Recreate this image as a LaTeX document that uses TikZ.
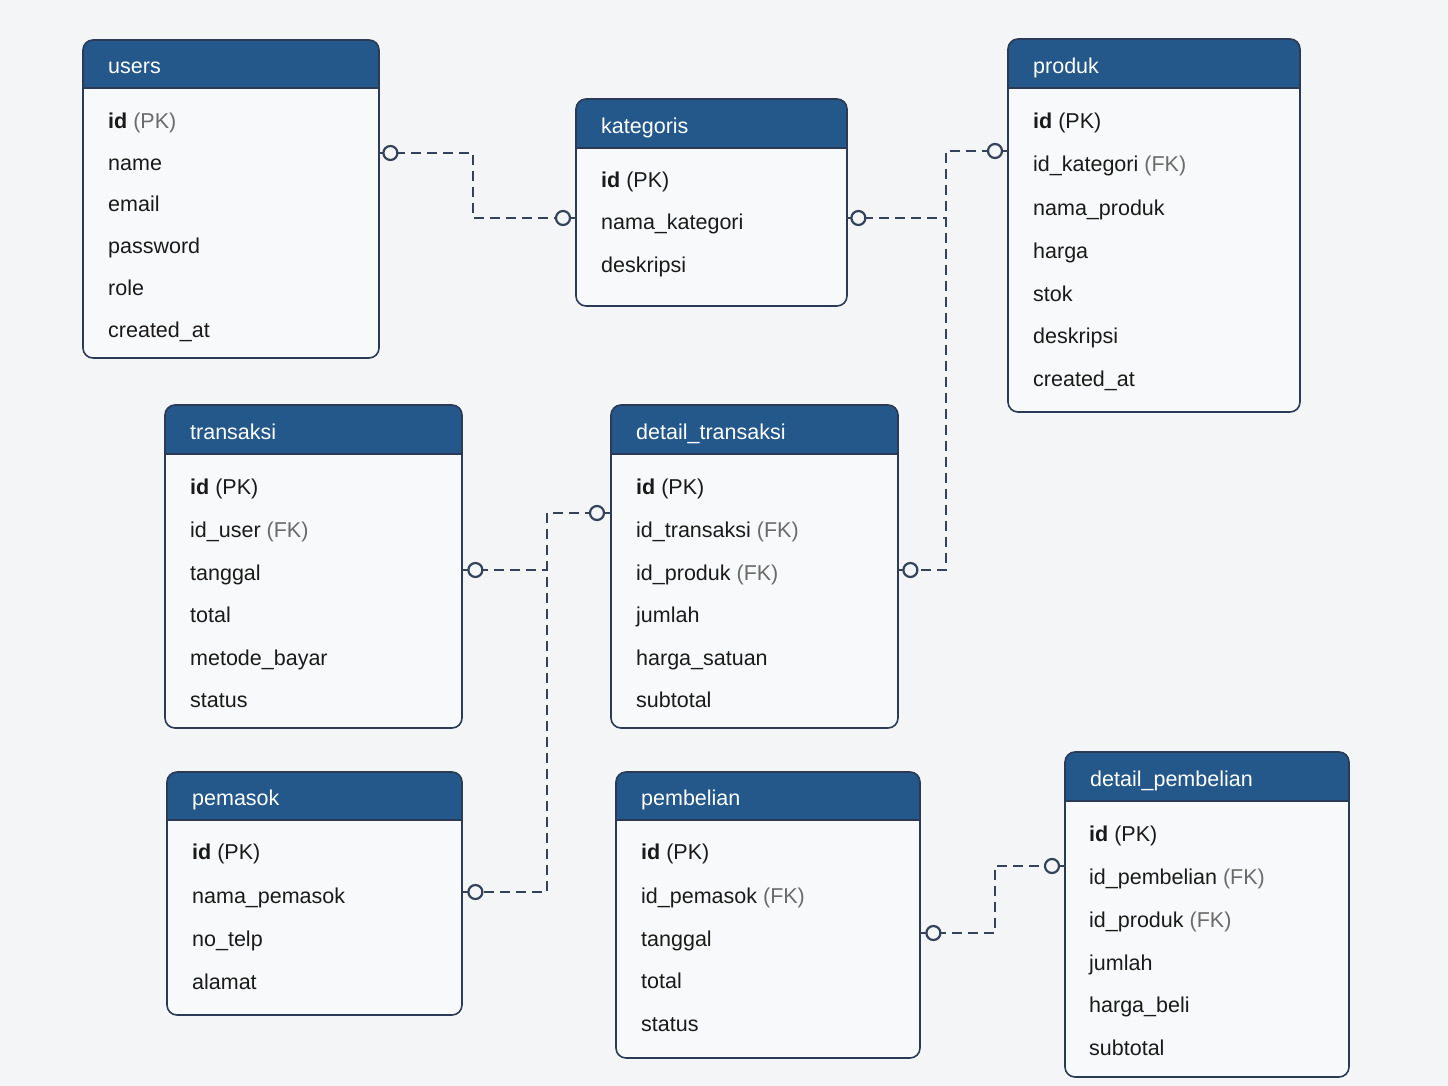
\documentclass[tikz,border=0pt]{standalone}
\usepackage{fontspec}
\setmainfont{Liberation Sans}
\usetikzlibrary{calc}
\definecolor{bg}{HTML}{F4F5F6}
\definecolor{hdr}{HTML}{24578A}
\definecolor{bord}{HTML}{2C3B55}
\definecolor{boxfill}{HTML}{F8F9FA}
\definecolor{txt}{HTML}{1A1A1A}
\definecolor{gr}{HTML}{6B6B6B}
\definecolor{lnc}{HTML}{34425A}
\newcommand\pk{\textcolor{txt}{(PK)}}
\newcommand\gpk{\textcolor{gr}{(PK)}}
\newcommand\fk{\textcolor{gr}{(FK)}}
% #1 name, #2 x1, #3 y1, #4 x2, #5 y2, #6 header bottom, #7 title
\newcommand\ertable[7]{%
  \node[tblbody, minimum width={#4-#2}, minimum height={#5-#3}, anchor=north west] (#1) at (#2,#3) {};
  \fill[hdr] (#2,#6) [rounded corners=10pt] -- (#2,#3) -- (#4,#3) [sharp corners] -- (#4,#6) -- cycle;
  \draw[tblborder] (#2,#3) rectangle (#4,#5);
  \draw[bord, line width=1.4pt] (#2,#6) -- (#4,#6);
  \node[title] (#1-t) at ($(#2,#3)!0.5!(#2,#6)+(25,1)$) {#7};
}
\newcommand\errow[4]{\node[rowtxt] (#1) at (#2,#3) {#4};}
\begin{document}
\begin{tikzpicture}[x=1pt,y=-1pt,
  tblbody/.style={fill=boxfill, inner sep=0pt, draw=none},
  tblborder/.style={draw=bord, line width=1.6pt, rounded corners=10pt},
  title/.style={anchor=mid west, text=white, inner sep=0pt, yshift=-6pt, font=\fontsize{21.5}{26}\selectfont},
  rowtxt/.style={anchor=mid west, text=txt, inner sep=0pt, yshift=-5pt, font=\fontsize{21.5}{26}\selectfont},
  rel/.style={draw=lnc, line width=2pt, dash pattern=on 10pt off 6pt},
  stub/.style={draw=lnc, line width=2pt},
  cmark/.style={draw=lnc, line width=2.2pt, fill=bg}
]
\fill[bg] (0,0) rectangle (1448,1086);
\useasboundingbox (0,0) rectangle (1448,1086);

% ---- tables ----
\ertable{users}{83}{40}{379}{358}{88}{users}
\errow{users-1}{108}{121}{\textbf{id} \gpk}
\errow{users-2}{108}{163}{name}
\errow{users-3}{108}{204}{email}
\errow{users-4}{108}{246}{password}
\errow{users-5}{108}{288}{role}
\errow{users-6}{108}{330}{created\_at}

\ertable{kategoris}{576}{99}{847}{306}{148}{kategoris}
\errow{kat-1}{601}{180}{\textbf{id} \pk}
\errow{kat-2}{601}{222}{nama\_kategori}
\errow{kat-3}{601}{265}{deskripsi}

\ertable{produk}{1008}{39}{1300}{412}{88}{produk}
\errow{prod-1}{1033}{121}{\textbf{id} \pk}
\errow{prod-2}{1033}{164}{id\_kategori \fk}
\errow{prod-3}{1033}{208}{nama\_produk}
\errow{prod-4}{1033}{251}{harga}
\errow{prod-5}{1033}{294}{stok}
\errow{prod-6}{1033}{336}{deskripsi}
\errow{prod-7}{1033}{379}{created\_at}

\ertable{transaksi}{165}{405}{462}{728}{454}{transaksi}
\errow{tr-1}{190}{487}{\textbf{id} \pk}
\errow{tr-2}{190}{530}{id\_user \fk}
\errow{tr-3}{190}{573}{tanggal}
\errow{tr-4}{190}{615}{total}
\errow{tr-5}{190}{658}{metode\_bayar}
\errow{tr-6}{190}{700}{status}

\ertable{dtrans}{611}{405}{898}{728}{454}{detail\_transaksi}
\errow{dt-1}{636}{487}{\textbf{id} \pk}
\errow{dt-2}{636}{530}{id\_transaksi \fk}
\errow{dt-3}{636}{573}{id\_produk \fk}
\errow{dt-4}{636}{615}{jumlah}
\errow{dt-5}{636}{658}{harga\_satuan}
\errow{dt-6}{636}{700}{subtotal}

\ertable{pemasok}{167}{772}{462}{1015}{820}{pemasok}
\errow{pm-1}{192}{852}{\textbf{id} \pk}
\errow{pm-2}{192}{896}{nama\_pemasok}
\errow{pm-3}{192}{939}{no\_telp}
\errow{pm-4}{192}{982}{alamat}

\ertable{pembelian}{616}{772}{920}{1058}{820}{pembelian}
\errow{pb-1}{641}{852}{\textbf{id} \pk}
\errow{pb-2}{641}{896}{id\_pemasok \fk}
\errow{pb-3}{641}{939}{tanggal}
\errow{pb-4}{641}{981}{total}
\errow{pb-5}{641}{1024}{status}

\ertable{dbeli}{1065}{752}{1349}{1077}{801}{detail\_pembelian}
\errow{db-1}{1089}{834}{\textbf{id} \pk}
\errow{db-2}{1089}{877}{id\_pembelian \fk}
\errow{db-3}{1089}{920}{id\_produk \fk}
\errow{db-4}{1089}{963}{jumlah}
\errow{db-5}{1089}{1005}{harga\_beli}
\errow{db-6}{1089}{1048}{subtotal}

% ---- connectors ----
\draw[rel] (users.east |- 0,153) -- (473,153) -- (473,218) -- (kategoris.west |- 0,218);
\draw[rel] (kategoris.east |- 0,218) -- (946,218);
\draw[rel] (produk.west |- 0,151) -- (946,151) -- (946,570) -- (dtrans.east |- 0,570);
\draw[rel] (transaksi.east |- 0,570) -- (547,570);
\draw[rel] (dtrans.west |- 0,513) -- (547,513) -- (547,892) -- (pemasok.east |- 0,892);
\draw[rel] (pembelian.east |- 0,933) -- (995,933) -- (995,866) -- (dbeli.west |- 0,866);

% ---- circle ends ----
\draw[stub] (users.east |- 0,153) -- ++(6,0);
\draw[cmark] ($(users.east |- 0,153)+(11,0)$) circle[radius=7pt];
\draw[stub] (kategoris.west |- 0,218) -- ++(-7,0);
\draw[cmark] ($(kategoris.west |- 0,218)+(-13,0)$) circle[radius=7pt];
\draw[stub] (kategoris.east |- 0,218) -- ++(6,0);
\draw[cmark] ($(kategoris.east |- 0,218)+(11,0)$) circle[radius=7pt];
\draw[stub] (produk.west |- 0,151) -- ++(-7,0);
\draw[cmark] ($(produk.west |- 0,151)+(-13,0)$) circle[radius=7pt];
\draw[stub] (dtrans.east |- 0,570) -- ++(6,0);
\draw[cmark] ($(dtrans.east |- 0,570)+(12,0)$) circle[radius=7pt];
\draw[stub] (transaksi.east |- 0,570) -- ++(6,0);
\draw[cmark] ($(transaksi.east |- 0,570)+(13,0)$) circle[radius=7pt];
\draw[stub] (dtrans.west |- 0,513) -- ++(-7,0);
\draw[cmark] ($(dtrans.west |- 0,513)+(-14,0)$) circle[radius=7pt];
\draw[stub] (pemasok.east |- 0,892) -- ++(6,0);
\draw[cmark] ($(pemasok.east |- 0,892)+(13,0)$) circle[radius=7pt];
\draw[stub] (pembelian.east |- 0,933) -- ++(6,0);
\draw[cmark] ($(pembelian.east |- 0,933)+(13,0)$) circle[radius=7pt];
\draw[stub] (dbeli.west |- 0,866) -- ++(-7,0);
\draw[cmark] ($(dbeli.west |- 0,866)+(-13,0)$) circle[radius=7pt];
\end{tikzpicture}
\end{document}
